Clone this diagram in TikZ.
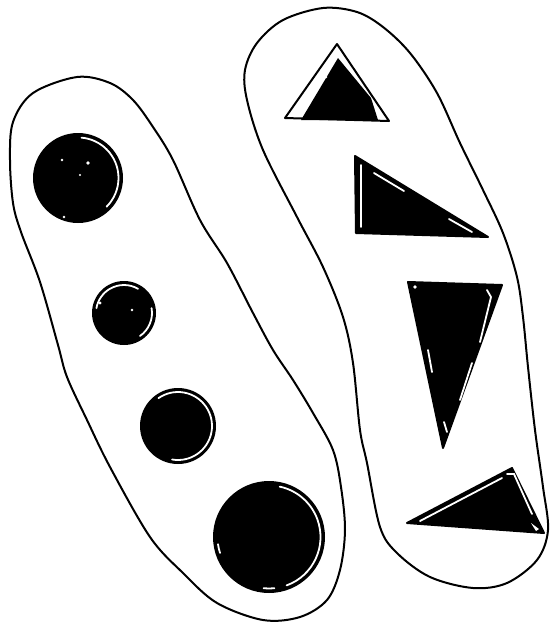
\documentclass[tikz,border=0pt]{standalone}
\begin{document}
\begin{tikzpicture}[x=1pt,y=-1pt,
  blobline/.style={line width=2pt, line join=round},
  hilite/.style={white, line width=1.8pt, line cap=round},
  shapeline/.style={line width=2pt, line join=round, fill=black}]
\useasboundingbox (0,0) rectangle (551,625);
% left blob
\draw[blobline] plot[smooth cycle, tension=0.55] coordinates {
 (77,77) (110,83) (133,100) (153,127) (173,160) (200,220) (227,263) (253,313)
 (273,350) (293,380) (313,413) (333,450) (341,487) (345,530) (340,570) (327,600)
 (300,617) (263,620) (217,603) (183,573) (150,537) (110,467) (87,420) (67,377)
 (58,345) (40,282) (21,232) (13,203) (10,160) (13,122) (33,93)};
% right blob
\draw[blobline] plot[smooth cycle, tension=0.55] coordinates {
 (323,8) (357,12) (383,27) (410,53) (437,93) (460,143) (483,190) (503,233)
 (517,277) (523,317) (528,367) (535,430) (543,487) (548,530) (537,560) (507,583)
 (473,588) (430,577) (397,553) (380,527) (367,463) (360,430) (353,363) (343,317)
 (323,267) (297,217) (263,150) (247,100) (245,70) (257,43) (283,20)};
% circles
\fill (78,178) circle[radius=45];
\draw[hilite] (78,178) ++(45:40.5) arc[start angle=45, end angle=-85, radius=40.5];
\fill[white] (62,160) circle[radius=1.4] (88,163) circle[radius=1.8] (64,217) circle[radius=1.4] (80,175) circle[radius=1.2];
\fill (124,313) circle[radius=32];
\draw[hilite] (124,313) ++(55:28) arc[start angle=55, end angle=-10, radius=28];
\draw[hilite] (124,313) ++(-60:28) arc[start angle=-60, end angle=-170, radius=28];
\fill[white] (132,310) circle[radius=1.4] (100,303) circle[radius=1.6];
\fill (178,426) circle[radius=38];
\draw[hilite] (178,426) ++(100:34) arc[start angle=100, end angle=-125, radius=34];
\fill (269,537) circle[radius=56];
\draw[hilite] (269,537) ++(96:51.5) arc[start angle=96, end angle=84, radius=51.5];
\draw[hilite] (269,537) ++(70:51.5) arc[start angle=70, end angle=-78, radius=51.5];
\draw[hilite] (269,537) ++(172:51.5) arc[start angle=172, end angle=162, radius=51.5];
% triangles
\draw[line width=2pt, line join=round] (337,44) -- (285,118) -- (389,121) -- cycle;
\fill (338,58) -- (371,98) -- (378,120) -- (301,120) -- cycle;
\fill[white] (322,70) circle[radius=1.6] (326,77) circle[radius=1.4];
\draw[shapeline] (355,156) -- (356,233) -- (488,237) -- cycle;
\draw[hilite] (361,165) -- (361,227);
\draw[hilite] (374,173) -- (404,191);
\draw[hilite] (449,219) -- (472,232);
\draw[shapeline] (408,282) -- (502,285) -- (443,448) -- cycle;
\fill[white] (415,287) circle[radius=1.8];
\draw[hilite] (487,290) -- (491,297) -- (480,342);
\draw[hilite] (472,363) -- (460,400);
\draw[hilite] (428,350) -- (432,372);
\draw[hilite] (444,422) -- (447,432);
\draw[shapeline] (407,523) -- (512,468) -- (544,533) -- cycle;
\draw[hilite] (420,521) -- (502,478);
\draw[hilite] (507,474) -- (514,474) -- (532,514);
\fill[white] (536,531) -- (531,523) -- (539,529) -- cycle;
\end{tikzpicture}
\end{document}
